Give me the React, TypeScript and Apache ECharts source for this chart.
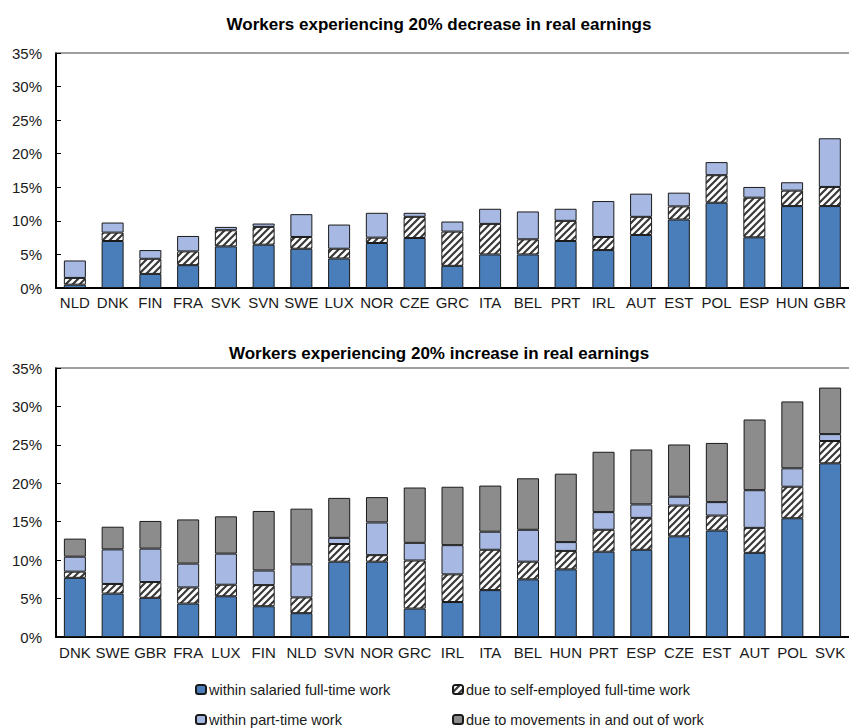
import React, { useEffect, useRef } from "react";
import * as echarts from "echarts";

const topCategories = ["NLD","DNK","FIN","FRA","SVK","SVN","SWE","LUX","NOR","CZE","GRC","ITA","BEL","PRT","IRL","AUT","EST","POL","ESP","HUN","GBR"];
const topSalaried = [0.5,7.0,2.1,3.4,6.2,6.45,5.85,4.4,6.7,7.45,3.3,5.0,5.0,7.0,5.65,7.9,10.2,12.7,7.55,12.2,12.2];
const topSelfEmp = [1.0,1.25,2.25,2.05,2.4,2.65,1.75,1.45,0.8,3.15,5.1,4.55,2.25,3.0,1.95,2.7,1.95,4.1,5.9,2.3,2.85];
const topPartTime = [2.6,1.5,1.3,2.3,0.5,0.5,3.4,3.6,3.7,0.6,1.5,2.25,4.15,1.8,5.35,3.45,2.05,1.95,1.6,1.25,7.25];

const botCategories = ["DNK","SWE","GBR","FRA","LUX","FIN","NLD","SVN","NOR","GRC","IRL","ITA","BEL","HUN","PRT","ESP","CZE","EST","AUT","POL","SVK"];
const botSalaried = [7.7,5.65,5.1,4.35,5.3,4.0,3.1,9.8,9.8,3.7,4.55,6.1,7.5,8.8,11.1,11.35,13.1,13.85,10.95,15.45,22.6];
const botSelfEmp = [0.8,1.25,2.05,2.1,1.5,2.75,2.05,2.3,0.85,6.25,3.6,5.25,2.3,2.4,2.85,4.15,4.0,1.95,3.25,4.1,2.9];
const botPartTime = [1.95,4.5,4.35,3.1,4.05,1.9,4.3,0.8,4.25,2.3,3.8,2.35,4.15,1.15,2.3,1.75,1.15,1.75,4.9,2.4,0.9];
const botMovements = [2.35,2.95,3.6,5.75,4.85,7.75,7.25,5.2,3.3,7.2,7.6,6.0,6.7,8.9,7.85,7.15,6.8,7.7,9.2,8.7,6.05];

const yTicks = [0, 5, 10, 15, 20, 25, 30, 35];

const names = [
  "within salaried full-time work",
  "due to self-employed full-time work",
  "within part-time work",
  "due to movements in and out of work",
];
const titles = [
  "Workers experiencing 20% decrease in real earnings",
  "Workers experiencing 20% increase in real earnings",
];

const FONT = "'Liberation Sans Narrow', 'Arial Narrow', 'Liberation Sans', Arial, sans-serif";

function makeHatch() {
  const c = document.createElement("canvas");
  const s = 7;
  c.width = s;
  c.height = s;
  const ctx = c.getContext("2d")!;
  ctx.fillStyle = "#ffffff";
  ctx.fillRect(0, 0, s, s);
  ctx.strokeStyle = "#3a3a3a";
  ctx.lineWidth = 2.2;
  ctx.beginPath();
  ctx.moveTo(-1, s + 1);
  ctx.lineTo(s + 1, -1);
  ctx.moveTo(-1 - s, s + 1);
  ctx.lineTo(1, -1);
  ctx.moveTo(s - 1, s + 1);
  ctx.lineTo(2 * s + 1, -1);
  ctx.stroke();
  return c;
}

export default function App() {
  const ref = useRef<HTMLDivElement>(null);
  useEffect(() => {
    document.body.style.margin = "0";
    const chart = echarts.init(ref.current!, undefined, { renderer: "svg" });
    const hatch = { image: makeHatch(), repeat: "repeat", imageWidth: 7, imageHeight: 7 } as any;
    const colors = ["#4a7ebb", hatch, "#a7b9e3", "#8c8c8c"];
    const border = { borderColor: "#1a1a1a", borderWidth: 1 };

    const grids = [
      { left: 56, top: 53, width: 796, height: 235 },
      { left: 56, top: 368, width: 796, height: 269 },
    ];
    const cats = [topCategories, botCategories];

    const xAxis: any[] = [];
    const yAxis: any[] = [];
    [0, 1].forEach((g) => {
      xAxis.push({
        type: "category",
        gridIndex: g,
        data: cats[g],
        axisLine: { lineStyle: { color: "#000", width: 2 } },
        axisTick: { show: false },
        axisLabel: { interval: 0, fontSize: 15, color: "#1a1a1a", fontFamily: FONT, margin: g === 0 ? 7 : 8 },
      });
      xAxis.push({
        type: "category",
        gridIndex: g,
        position: "top",
        data: cats[g],
        axisLine: { show: true, lineStyle: { color: "#808080", width: 1.5 } },
        axisTick: { show: false },
        axisLabel: { show: false },
      });
      yAxis.push({
        type: "value",
        gridIndex: g,
        min: yTicks[0],
        max: yTicks[yTicks.length - 1],
        interval: yTicks[1] - yTicks[0],
        axisLine: { show: true, lineStyle: { color: "#000", width: 2 } },
        axisTick: { show: true, inside: true, length: 5, lineStyle: { color: "#000", width: 1 } },
        splitLine: { show: false },
        axisLabel: { formatter: "{value}%", fontSize: 15, color: "#1a1a1a", fontFamily: FONT, margin: 14 },
      });
    });

    const mk = (name: string, idx: number, g: number, data: number[]) => ({
      name,
      type: "bar",
      stack: "s" + g,
      xAxisIndex: g * 2,
      yAxisIndex: g,
      data,
      barWidth: 22,
      itemStyle: { color: colors[idx], ...border },
      emphasis: { disabled: true },
    });

    const series = [
      mk(names[0], 0, 0, topSalaried),
      mk(names[1], 1, 0, topSelfEmp),
      mk(names[2], 2, 0, topPartTime),
      mk(names[0], 0, 1, botSalaried),
      mk(names[1], 1, 1, botSelfEmp),
      mk(names[2], 2, 1, botPartTime),
      mk(names[3], 3, 1, botMovements),
    ];

    const legendPos = [
      { left: 195, top: 682 },
      { left: 452, top: 682 },
      { left: 195, top: 712 },
      { left: 452, top: 712 },
    ];
    const legend = names.map((n, i) => ({
      data: [n],
      ...legendPos[i],
      padding: 0,
      itemWidth: 10,
      itemHeight: 9,
      itemGap: 3,
      selectedMode: false,
      textStyle: { fontSize: 14.5, color: "#1a1a1a", fontFamily: FONT, padding: [0, 0, 0, -2] },
    }));

    chart.setOption({
      animation: false,
      backgroundColor: "#ffffff",
      title: titles.map((t, i) => ({
        text: t,
        left: 439,
        textAlign: "center",
        top: i === 0 ? 16 : 345,
        padding: 0,
        textStyle: { fontSize: 17, fontWeight: "bold", color: "#000", fontFamily: FONT },
      })),
      grid: grids,
      xAxis,
      yAxis,
      legend,
      series,
    });
    return () => chart.dispose();
  }, []);
  return <div ref={ref} style={{ width: 849, height: 728 }} />;
}
